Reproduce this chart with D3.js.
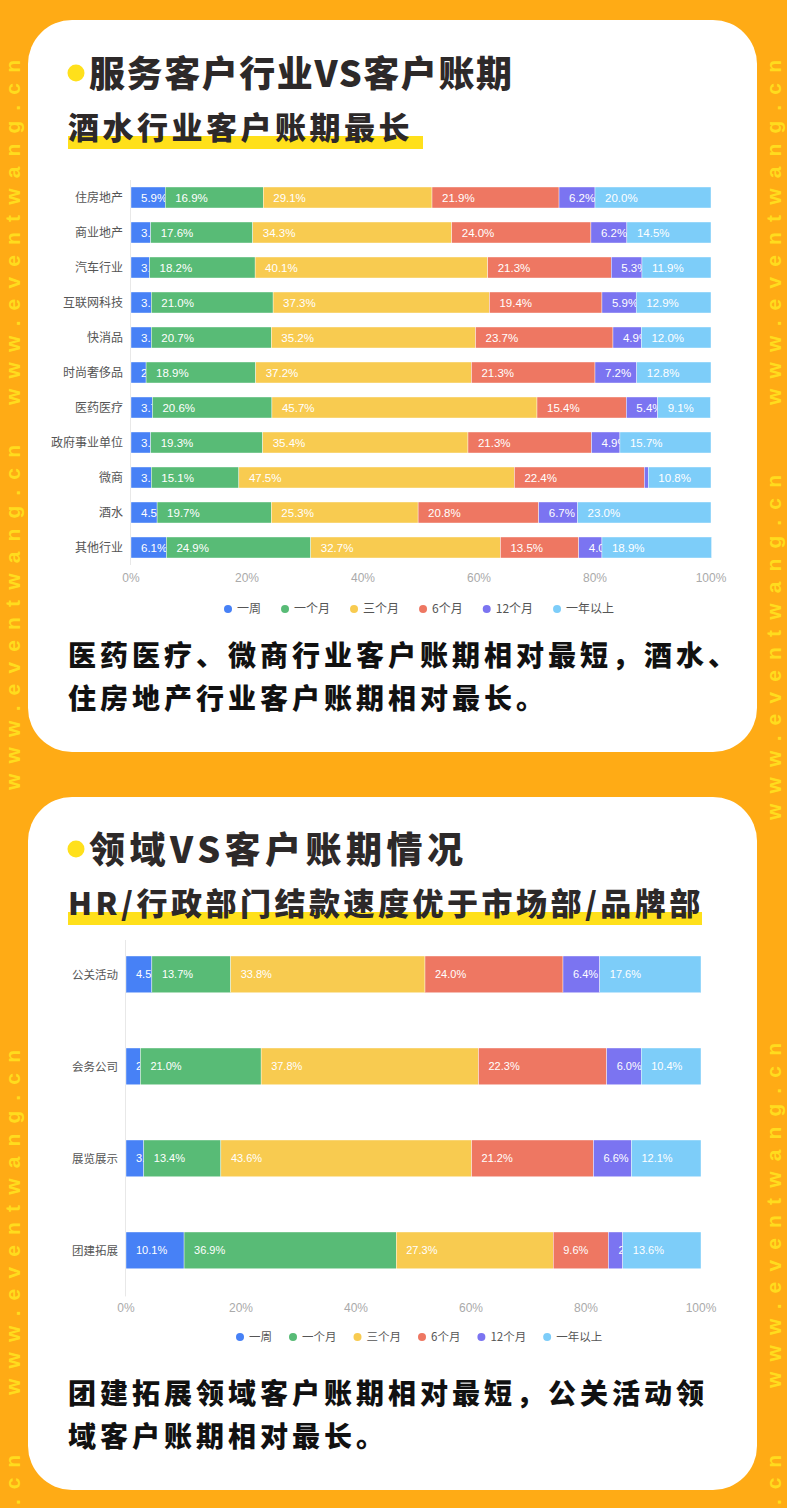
<!DOCTYPE html>
<html>
<head>
<meta charset="utf-8">
<title>客户账期</title>
<script src="https://cdnjs.cloudflare.com/ajax/libs/d3/7.8.5/d3.min.js"></script>
<style>
  body { margin: 0; background: #ffab15; }
  svg { display: block; }
</style>
</head>
<body>
<div id="vis"></div>
<script>
var W = 787, H = 1508;

// legend / series
var series = ["一周", "一个月", "三个月", "6个月", "12个月", "一年以上"];
var colors = ["#4781f6", "#58bb76", "#f8cb50", "#ee7762", "#7b74f1", "#7dcdf9"];
var ticks = [0, 20, 40, 60, 80, 100];

// chart 1: 服务客户行业
var industries = ["住房地产", "商业地产", "汽车行业", "互联网科技", "快消品", "时尚奢侈品",
                  "医药医疗", "政府事业单位", "微商", "酒水", "其他行业"];
var indWeek    = [5.9, 3.4, 3.2, 3.5, 3.5, 2.6, 3.7, 3.4, 3.5, 4.5, 6.1];
var indMonth1  = [16.9, 17.6, 18.2, 21.0, 20.7, 18.9, 20.6, 19.3, 15.1, 19.7, 24.9];
var indMonth3  = [29.1, 34.3, 40.1, 37.3, 35.2, 37.2, 45.7, 35.4, 47.5, 25.3, 32.7];
var indMonth6  = [21.9, 24.0, 21.3, 19.4, 23.7, 21.3, 15.4, 21.3, 22.4, 20.8, 13.5];
var indMonth12 = [6.2, 6.2, 5.3, 5.9, 4.9, 7.2, 5.4, 4.9, 0.7, 6.7, 4.0];
var indYear    = [20.0, 14.5, 11.9, 12.9, 12.0, 12.8, 9.1, 15.7, 10.8, 23.0, 18.9];

// chart 2: 领域
var fields       = ["公关活动", "会务公司", "展览展示", "团建拓展"];
var fldWeek      = [4.5, 2.5, 3.1, 10.1];
var fldMonth1    = [13.7, 21.0, 13.4, 36.9];
var fldMonth3    = [33.8, 37.8, 43.6, 27.3];
var fldMonth6    = [24.0, 22.3, 21.2, 9.6];
var fldMonth12   = [6.4, 6.0, 6.6, 2.5];
var fldYear      = [17.6, 10.4, 12.1, 13.6];

function makeRows(cats, cols) {
  return cats.map(function(c, i) {
    var r = { cat: c };
    series.forEach(function(s, k) { r[s] = cols[k][i]; });
    return r;
  });
}

var rows1 = makeRows(industries, [indWeek, indMonth1, indMonth3, indMonth6, indMonth12, indYear]);
var rows2 = makeRows(fields, [fldWeek, fldMonth1, fldMonth3, fldMonth6, fldMonth12, fldYear]);

var svg = d3.select("#vis").append("svg")
  .attr("width", W).attr("height", H);

var cjk = "'Noto Sans CJK SC', sans-serif";
var num = "'Liberation Sans', Arial, 'Noto Sans CJK SC', sans-serif";

svg.append("rect").attr("width", W).attr("height", H).attr("fill", "#ffab15");

// watermark strips (read bottom to top)
var marks = [
  { x: 13, y: 405, t: "www.eventwang.cn", len: 345 },
  { x: 13, y: 790, t: "www.eventwang.cn", len: 345 },
  { x: 13, y: 1395, t: "www.eventwang.cn", len: 345 },
  { x: 13, y: 1505, t: ".cn", len: 50 },
  { x: 774, y: 405, t: "www.eventwang.cn", len: 345 },
  { x: 774, y: 820, t: "www.eventwang.cn", len: 345 },
  { x: 774, y: 1388, t: "www.eventwang.cn", len: 345 },
  { x: 774, y: 1505, t: ".cn", len: 50 }
];
svg.selectAll("text.wm").data(marks).enter().append("text")
  .attr("class", "wm")
  .attr("transform", function(d) { return "translate(" + d.x + "," + d.y + ") rotate(-90)"; })
  .attr("dy", "0.35em")
  .attr("textLength", function(d) { return d.len; })
  .attr("lengthAdjust", "spacing")
  .style("font-family", num)
  .style("font-size", "21px")
  .style("font-weight", "bold")
  .style("fill", "#ffdc1e")
  .text(function(d) { return d.t; });

// cards
var cards = [{ y: 20, h: 732 }, { y: 797, h: 693 }];
svg.selectAll("rect.card").data(cards).enter().append("rect")
  .attr("class", "card")
  .attr("x", 28).attr("y", function(d) { return d.y; })
  .attr("width", 729).attr("height", function(d) { return d.h; })
  .attr("rx", 44).attr("fill", "#fff");

// headings
function heading(title, titleLen, sub, y, subLen) {
  svg.append("circle").attr("cx", 76).attr("cy", y - 14).attr("r", 8.5).attr("fill", "#ffe01b");
  svg.append("text").attr("x", 89).attr("y", y)
    .attr("textLength", titleLen).attr("lengthAdjust", "spacing")
    .style("font-family", cjk).style("font-size", "36px").style("font-weight", 900)
    .style("fill", "#2d2929").text(title);
  svg.append("rect").attr("x", 68).attr("y", y + 49).attr("width", subLen).attr("height", 13)
    .attr("fill", "#ffe01b");
  svg.append("text").attr("x", 68).attr("y", y + 52)
    .style("font-family", cjk).style("font-size", "31px").style("font-weight", 900)
    .style("letter-spacing", "3.5px").style("fill", "#2d2929").text(sub);
}
heading("服务客户行业VS客户账期", 423, "酒水行业客户账期最长", 87, 355);
heading("领域VS客户账期情况", 374, "HR/行政部门结款速度优于市场部/品牌部", 863, 634);

// conclusions
function note(lines, y) {
  svg.selectAll(null).data(lines).enter().append("text")
    .attr("x", 68).attr("y", function(d, i) { return y + i * 43; })
    .style("font-family", cjk).style("font-size", "28px").style("font-weight", 900)
    .style("letter-spacing", "4px").style("fill", "#111").text(function(d) { return d; });
}
note(["医药医疗、微商行业客户账期相对最短，酒水、", "住房地产行业客户账期相对最长。"], 666);
note(["团建拓展领域客户账期相对最短，公关活动领", "域客户账期相对最长。"], 1404);

var clipId = 0;
function drawChart(rows, cats, o) {
  var g = svg.append("g");
  var x = d3.scaleLinear().domain([0, 100]).range([o.x0, o.x1]);
  var y = d3.scaleBand().domain(cats).range([o.y0, o.y1])
    .paddingInner(o.padIn).paddingOuter(o.padOut);
  var stack = d3.stack().keys(series)(rows);

  g.append("line").attr("x1", o.x0 - 0.5).attr("x2", o.x0 - 0.5)
    .attr("y1", o.axisTop).attr("y2", o.y1)
    .attr("stroke", "#e8e8e8").attr("stroke-width", 1);

  var layer = g.selectAll("g.layer").data(stack).enter().append("g")
    .attr("fill", function(d, i) { return colors[i]; });

  var seg = layer.selectAll("g.seg").data(function(d) { return d; }).enter().append("g");
  seg.append("rect")
    .attr("x", function(d) { return x(d[0]); })
    .attr("y", function(d) { return y(d.data.cat); })
    .attr("width", function(d) { return Math.max(0, x(d[1]) - x(d[0])); })
    .attr("height", y.bandwidth())
    .attr("stroke", "#fff").attr("stroke-width", 0.4);

  // value labels: cut to the segment like the original chart
  seg.each(function(d) {
    var w = x(d[1]) - x(d[0]);
    var avail = w - 10;
    if (avail < 2) return;
    var id = "clip" + (clipId++);
    var s = d3.select(this);
    s.append("clipPath").attr("id", id).append("rect")
      .attr("x", x(d[0])).attr("y", y(d.data.cat))
      .attr("width", w).attr("height", y.bandwidth());
    var full = d3.format(".1f")(d[1] - d[0]) + "%";
    var t = s.append("text")
      .attr("clip-path", "url(#" + id + ")")
      .attr("x", x(d[0]) + 10)
      .attr("y", y(d.data.cat) + y.bandwidth() / 2)
      .attr("dy", "0.36em")
      .style("font-family", num).style("font-size", o.valSize + "px")
      .style("fill", "#fff")
      .text(full);
    var node = t.node(), n = 1;
    while (n < full.length && node.getSubStringLength(0, n) < avail - 1) n++;
    t.text(full.slice(0, n));
  });

  g.selectAll("text.cat").data(cats).enter().append("text")
    .attr("x", o.x0 - 8)
    .attr("y", function(d) { return y(d) + y.bandwidth() / 2; })
    .attr("dy", "0.36em").attr("text-anchor", "end")
    .style("font-family", cjk).style("font-size", o.catSize + "px").style("fill", "#555")
    .text(function(d) { return d; });

  g.selectAll("text.tick").data(ticks).enter().append("text")
    .attr("x", function(d) { return x(d); }).attr("y", o.tickY)
    .attr("dy", "0.36em").attr("text-anchor", "middle")
    .style("font-family", num).style("font-size", "12px").style("fill", "#aaa")
    .text(function(d) { return d + "%"; });

  var lx = o.legendX;
  series.forEach(function(s, i) {
    g.append("circle").attr("cx", lx).attr("cy", o.legendY).attr("r", 4).attr("fill", colors[i]);
    var t = g.append("text").attr("x", lx + 9).attr("y", o.legendY).attr("dy", "0.36em")
      .style("font-family", cjk).style("font-size", o.legSize + "px").style("fill", "#555")
      .text(s);
    lx += 9 + t.node().getComputedTextLength() + o.legendGap;
  });
}

drawChart(rows1, industries, {
  x0: 131, x1: 711, y0: 180, y1: 565, padIn: 0.4, padOut: 0.2,
  axisTop: 180, tickY: 578, legendX: 228, legendY: 609, legendGap: 24,
  valSize: 11.5, catSize: 12, legSize: 12
});

drawChart(rows2, fields, {
  x0: 126, x1: 701, y0: 928.4, y1: 1296.4, padIn: 0.6, padOut: 0.3,
  axisTop: 940, tickY: 1308, legendX: 240, legendY: 1337, legendGap: 21,
  valSize: 11, catSize: 11.5, legSize: 11.5
});
</script>
</body>
</html>
